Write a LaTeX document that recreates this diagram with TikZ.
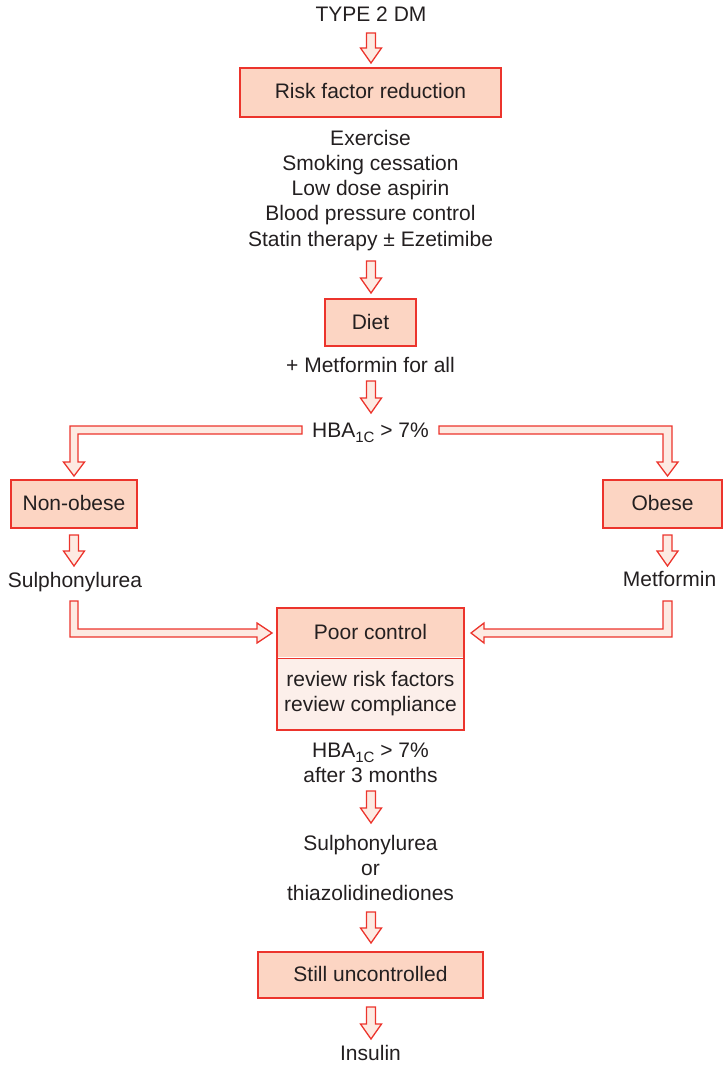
\documentclass[tikz,border=0pt]{standalone}
\usepackage{fontspec}
\setmainfont{Liberation Sans}
\definecolor{bred}{RGB}{236,52,44}
\definecolor{bfill}{RGB}{252,213,195}
\definecolor{afill}{RGB}{253,234,226}
\definecolor{lfill}{RGB}{252,239,234}
\definecolor{txt}{RGB}{35,31,32}
\newcommand\fs{\fontsize{21}{25}\selectfont}
\newcommand\subfs{\fontsize{15}{15}\selectfont}
\newcommand\hba{HBA\raisebox{-5pt}{\subfs 1C} > 7\%}
\tikzset{
  box/.style={draw=bred, line width=2pt, fill=bfill, inner sep=0pt, text=txt,
    font=\fs, text height=16pt, text depth=3pt},
  lbl/.style={text=txt, font=\fs, anchor=base, inner sep=0pt},
  blk/.style={draw=bred, line width=1.3pt, fill=afill, line join=miter},
}
\newcommand\blkdown[3]{\draw[blk] (#1-4.5,#2) -- (#1+4.5,#2) -- (#1+4.5,#3-15)
  -- (#1+10.5,#3-15) -- (#1,#3) -- (#1-10.5,#3-15) -- (#1-4.5,#3-15) -- cycle;}
\begin{document}
\begin{tikzpicture}[x=1pt,y=-1pt]
\useasboundingbox (0,0) rectangle (723,1065);
% texts
\node[lbl] (t2dm) at (371,22) {TYPE 2 DM};
\node[box, minimum width=261pt, minimum height=49pt] (risk) at (370.5,92.5) {Risk factor reduction};
\node[lbl] (l1) at (370.5,145) {Exercise};
\node[lbl] (l2) at (370.5,170) {Smoking cessation};
\node[lbl] (l3) at (370.5,195) {Low dose aspirin};
\node[lbl] (l4) at (370.5,220) {Blood pressure control};
\node[lbl] (l5) at (370.5,246) {Statin therapy ± Ezetimibe};
\node[box, minimum width=91pt, minimum height=47pt] (diet) at (370.5,322.5) {Diet};
\node[lbl] (metall) at (370.5,372) {+ Metformin for all};
\node[lbl] (hba) at (370.5,437) {\hba};
\node[box, minimum width=126pt, minimum height=48pt] (nonob) at (74,504) {Non-obese};
\node[box, minimum width=119pt, minimum height=48pt] (obese) at (662.5,504) {Obese};
\node[lbl] (sulph1) at (75,587) {Sulphonylurea};
\node[lbl] (metf) at (669.5,586) {Metformin};
\node[box, draw=none, minimum width=185pt, minimum height=48pt] (poor) at (370.5,633) {Poor control};
\node[box, draw=none, fill=lfill, minimum width=185pt, minimum height=70pt, anchor=north] (review) at (poor.south) {};
\draw[bred, line width=1pt] (poor.south west) -- (poor.south east);
\draw[bred, line width=2pt] (poor.north west) rectangle (review.south east);
\node[lbl] (rev1) at (370.5,686) {review risk factors};
\node[lbl] (rev2) at (370.5,711) {review compliance};
\node[lbl] (hba2) at (370.5,757) {\hba};
\node[lbl] (after) at (370.5,782) {after 3 months};
\node[lbl] (sulph2) at (370.5,850) {Sulphonylurea};
\node[lbl] (or) at (370.5,875) {or};
\node[lbl] (thia) at (370.5,900) {thiazolidinediones};
\node[box, minimum width=225pt, minimum height=46pt] (still) at (370.5,975) {Still uncontrolled};
\node[lbl] (ins) at (370.5,1060) {Insulin};
% straight block arrows
\blkdown{371}{33}{63}
\blkdown{371}{261}{293}
\blkdown{371}{381}{413}
\blkdown{74}{535}{566}
\blkdown{667.5}{535}{566}
\blkdown{371}{791}{823}
\blkdown{371}{912}{943}
\blkdown{371}{1007}{1039}
% elbow block arrows
\draw[blk] (302,426) -- (70,426) -- (70,462) -- (63.5,462) -- (74,476) -- (84.5,462)
  -- (78,462) -- (78,434) -- (302,434) -- cycle;
\draw[blk] (439,426) -- (672,426) -- (672,462) -- (678,462) -- (667.5,476) -- (657,462)
  -- (663,462) -- (663,434) -- (439,434) -- cycle;
\draw[blk] (70,601) -- (78,601) -- (78,629) -- (257,629) -- (257,623) -- (272,633)
  -- (257,643) -- (257,637) -- (70,637) -- cycle;
\draw[blk] (672,601) -- (663,601) -- (663,629) -- (484,629) -- (484,623) -- (471,633)
  -- (484,643) -- (484,637) -- (672,637) -- cycle;
\end{tikzpicture}
\end{document}
